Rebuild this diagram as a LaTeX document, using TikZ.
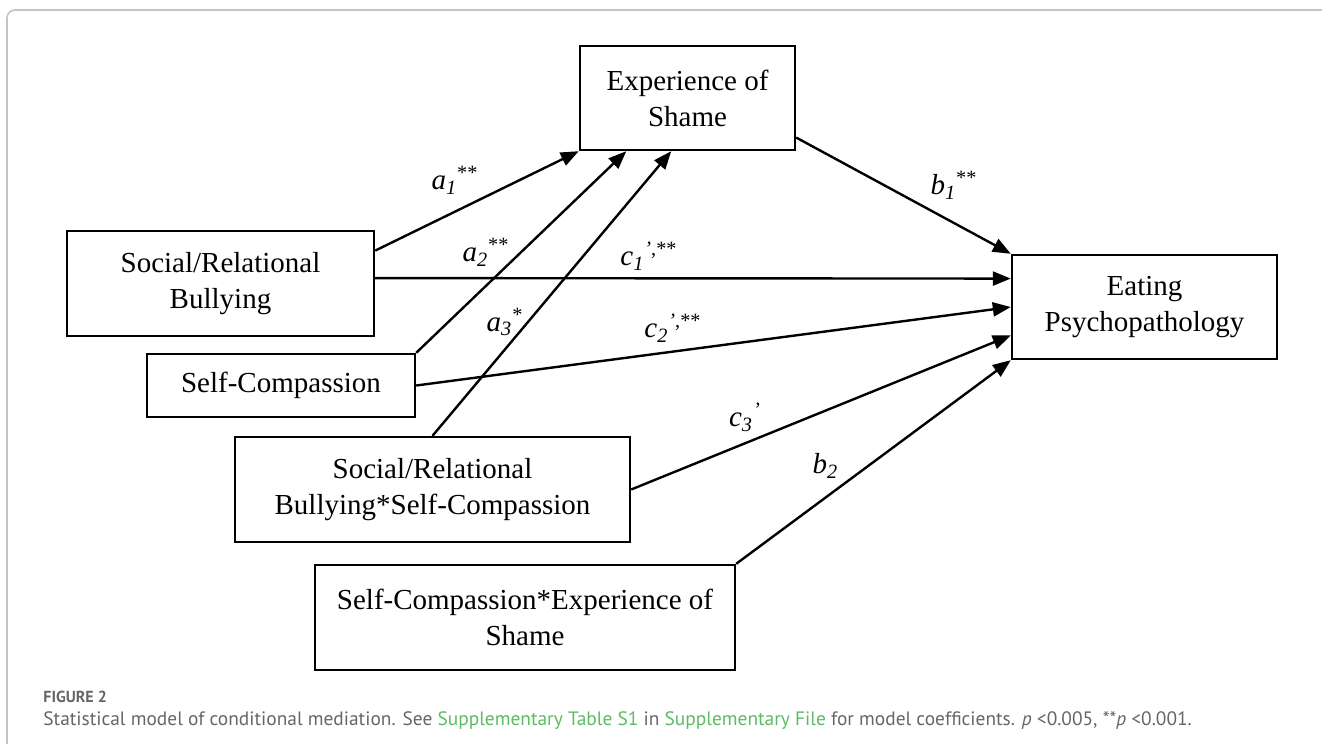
\documentclass[tikz,border=0pt]{standalone}
\usepackage{fontspec}
\setmainfont{Liberation Serif}
\newfontfamily\capfont{PT Sans}
\usetikzlibrary{arrows.meta}
\definecolor{framegray}{HTML}{C4C4C4}
\definecolor{capgray}{HTML}{666666}
\definecolor{linkgreen}{HTML}{5DBB63}
\tikzset{
  var/.style={draw=black,line width=1.2pt,align=center,inner sep=0pt,
    font=\fontsize{14.5}{18}\selectfont},
  path arrow/.style={draw=black,line width=1.2pt,-{Triangle[length=9pt,width=7pt]}},
  coef/.style={inner sep=0pt,font=\fontsize{14.5}{18}\selectfont}
}
\newcommand{\pathlab}[3]{\textit{#1}\textsubscript{\textit{#2}}\textsuperscript{#3}}

\begin{document}
\begin{tikzpicture}[x=0.5pt,y=-0.5pt]
  \useasboundingbox (0,0) rectangle (1322,744);
  \draw[framegray,line width=0.8pt,rounded corners=4pt] (7,744) -- (7,10) -- (1322,10);
  \node[var,minimum width=107.5pt,minimum height=52pt] (shame) at (687.5,98) {Experience of\\Shame};
  \node[var,minimum width=153.5pt,minimum height=52.5pt] (srb) at (220.5,283.5) {Social/Relational\\Bullying};
  \node[var,minimum width=134pt,minimum height=31.5pt] (sc) at (281,385.5) {Self-Compassion};
  \node[var,minimum width=197.5pt,minimum height=52.5pt] (srbsc) at (432.5,489.5) {Social/Relational\\Bullying*Self-Compassion};
  \node[var,minimum width=210pt,minimum height=52.5pt] (sces) at (525,617.5) {Self-Compassion*Experience of\\Shame};
  \node[var,minimum width=132.5pt,minimum height=52pt] (eat) at (1144.5,307) {Eating\\Psychopathology};
  \draw[path arrow] (srb.12) -- (shame.south west);
  \draw[path arrow] (sc.north east) -- (shame.221);
  \draw[path arrow] (srbsc.north) -- (shame.253);
  \draw[path arrow] (shame.-20) -- (eat.north west);
  \draw[path arrow] (srb.2) -- (eat.168);
  \draw[path arrow] (sc.east) -- (eat.west);
  \draw[path arrow] (srbsc.east) -- (eat.192);
  \draw[path arrow] (sces.north east) -- (eat.south west);
  \node[coef] (la1) at (455,180) {\pathlab{a}{1}{**}};
  \node[coef] (la2) at (486,252) {\pathlab{a}{2}{**}};
  \node[coef] (la3) at (505,322) {\pathlab{a}{3}{*}};
  \node[coef] (lb1) at (954,185) {\pathlab{b}{1}{**}};
  \node[coef] (lc1) at (649,256) {\pathlab{c}{1}{\textit{'},**}};
  \node[coef] (lc2) at (673,328) {\pathlab{c}{2}{\textit{'},**}};
  \node[coef] (lc3) at (745,417) {\pathlab{c}{3}{\textit{'}}};
  \node[coef] (lb2) at (826,466) {\pathlab{b}{2}{}};
  \node[anchor=west,inner sep=0pt,text=capgray,font=\capfont\bfseries\fontsize{8}{10}\selectfont] (fig) at (43,697) {FIGURE 2};
  \node[anchor=west,inner sep=0pt,text=capgray,font=\capfont\fontsize{9.7}{11}\selectfont] (cap) at (43,721)
    {Statistical model of conditional mediation. See \textcolor{linkgreen}{Supplementary Table S1} in \textcolor{linkgreen}{Supplementary File} for model coefficients. \textit{p} <0.005, **\textit{p} <0.001.};
\end{tikzpicture}
\end{document}
